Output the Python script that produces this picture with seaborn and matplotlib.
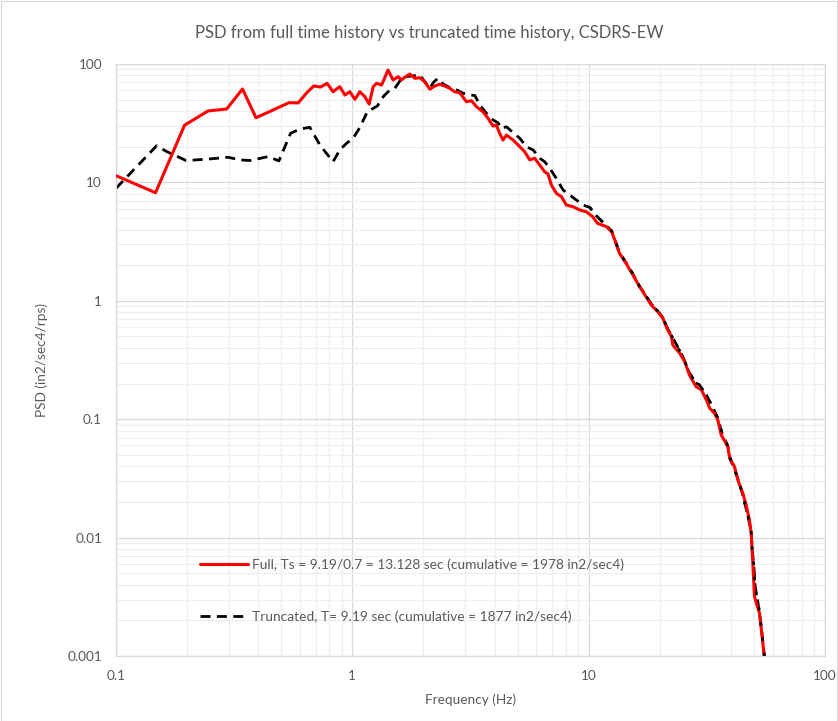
import matplotlib
matplotlib.use("Agg")
import matplotlib.pyplot as plt
import matplotlib.ticker as mticker
from matplotlib.patches import Rectangle
import seaborn as sns
import pandas as pd

# ---------------- data ----------------
f_full = [0.100, 0.147, 0.195, 0.245, 0.294, 0.343, 0.391, 0.440, 0.539, 0.590,
          0.644, 0.687, 0.734, 0.782, 0.829, 0.885, 0.930, 0.976, 1.025, 1.076,
          1.129, 1.178, 1.225, 1.266, 1.33, 1.416, 1.488, 1.563, 1.614, 1.667,
          1.75, 1.837, 1.93, 2.026, 2.128, 2.233, 2.344, 2.46, 2.583, 2.71,
          2.848, 3.04, 3.19, 3.35, 3.57, 3.75, 3.94, 4.07, 4.2, 4.34,
          4.49, 4.79, 5.11, 5.36, 5.63, 5.91, 6.21, 6.51, 6.73, 6.95,
          7.30, 7.67, 8.05, 8.59, 9.16, 9.78, 10.4, 10.9, 11.9, 12.5,
          12.9, 13.5, 14.4, 15.4, 16.4, 17.5, 18.4, 19.6, 20.6, 21.6,
          22.4, 22.7, 24.3, 25.5, 26.7, 28.5, 30.0, 31.5, 32.5, 34.1,
          35.2, 36.4, 38.8, 39.5, 41.4, 42.8, 44.9, 46.4, 47.9, 48.7,
          49.5, 50.3, 52.8, 54.6, 56.0]
psd_full = [11.4, 8.18, 30.4, 40.1, 41.7, 61.5, 35.2, 39.1, 47.1, 46.9,
            57.7, 65.2, 63.9, 68.7, 58.3, 64.3, 54.7, 58.3, 50.3, 58.3,
            53.0, 45.9, 64.3, 68.7, 66.5, 88.9, 73.3, 78.1, 73.3, 77.2,
            82.3, 75.7, 76.6, 70.8, 61.2, 65.2, 67.4, 65.2, 62.3, 58.3,
            57.2, 48.0, 49.0, 43.6, 39.5, 34.8, 29.9, 30.5, 26.0, 22.8,
            25.1, 22.8, 20.0, 18.2, 15.5, 16.0, 14.0, 12.3, 11.8, 9.51,
            8.09, 7.57, 6.44, 6.23, 5.85, 5.65, 5.13, 4.51, 4.23, 3.84,
            3.26, 2.52, 2.07, 1.65, 1.32, 1.08, 0.922, 0.809, 0.711, 0.567,
            0.498, 0.423, 0.360, 0.306, 0.236, 0.188, 0.177, 0.145, 0.124, 0.112,
            0.0985, 0.0736, 0.0586, 0.0468, 0.0397, 0.0306, 0.0237, 0.0188, 0.0141, 0.01087,
            0.00607, 0.00317, 0.0023, 0.00128, 0.0008]

f_trunc = [0.100, 0.1486, 0.164, 0.198, 0.242, 0.298, 0.334, 0.369, 0.44, 0.489,
           0.548, 0.600, 0.661, 0.729, 0.829, 0.885, 0.945, 1.008, 1.076, 1.157,
           1.276, 1.359, 1.441, 1.513, 1.588, 1.667, 1.78, 1.93, 2.026, 2.128,
           2.21, 2.305, 2.42, 2.583, 2.765, 2.94, 3.14, 3.30, 3.46, 3.69,
           3.94, 4.14, 4.27, 4.49, 4.79, 5.11, 5.45, 5.82, 6.21, 6.51,
           6.84, 7.30, 7.79, 8.31, 8.87, 9.46, 10.1, 10.8, 11.9, 12.5,
           12.9, 13.5, 14.4, 15.4, 16.4, 17.5, 18.4, 19.6, 20.6, 21.6,
           22.4, 23.8, 25.3, 26.5, 28.5, 29.3, 31.5, 33.3, 35.2, 36.7,
           38.8, 39.7, 42.4, 44.7, 46.7, 48.7, 49.2, 49.9, 50.7, 52.8,
           54.2, 56.0]
psd_trunc = [8.92, 20.4, 18.2, 15.3, 15.7, 16.3, 15.5, 15.3, 16.5, 15.2,
             26.0, 28.2, 29.2, 20.7, 14.96, 18.8, 21.4, 23.6, 29.1, 39.5,
             44.2, 53.7, 60.3, 62.3, 71.8, 78.1, 79.2, 80.7, 70.8, 62.3,
             70.5, 75.7, 67.8, 63.3, 60.3, 56.6, 54.7, 54.2, 45.1, 38.4,
             33.7, 31.8, 28.6, 29.5, 26.3, 23.6, 20.0, 18.8, 16.0, 14.96,
             13.2, 10.8, 8.63, 7.83, 7.10, 6.44, 6.16, 5.2, 4.3, 3.9,
             3.3, 2.55, 2.1, 1.68, 1.33, 1.10, 0.94, 0.82, 0.72, 0.58,
             0.51, 0.409, 0.322, 0.252, 0.201, 0.197, 0.160, 0.129, 0.102, 0.076,
             0.0594, 0.0466, 0.0331, 0.0237, 0.01655, 0.01143, 0.00775, 0.00607, 0.0038, 0.00237,
             0.0015, 0.0008]

label_full = "Full, Ts = 9.19/0.7 = 13.128 sec (cumulative = 1978 in2/sec4)"
label_trunc = "Truncated, T= 9.19 sec (cumulative = 1877 in2/sec4)"
title = "PSD from full time history vs truncated time history, CSDRS-EW"
x_label = "Frequency (Hz)"
y_label = "PSD (in2/sec4/rps)"
x_ticks = [0.1, 1, 10, 100]
x_ticklabels = ["0.1", "1", "10", "100"]
y_ticks = [0.001, 0.01, 0.1, 1, 10, 100]
y_ticklabels = ["0.001", "0.01", "0.1", "1", "10", "100"]

# ---------------- style ----------------
sns.set_style("white")
plt.rcParams['font.family'] = ['Lato', 'DejaVu Sans']
txt = '#595959'

W, H = 838, 721
fig = plt.figure(figsize=(W / 100, H / 100), dpi=100)
L, R, T, B = 116, 825, 64, 656
ax = fig.add_axes([L / W, 1 - B / H, (R - L) / W, (B - T) / H])

df_full = pd.DataFrame({"f": f_full, "psd": psd_full})
df_trunc = pd.DataFrame({"f": f_trunc, "psd": psd_trunc})
df_trunc_hi = df_trunc[df_trunc["f"] >= 10.0]

# truncated (dashed) under the red line, red on top, then fine dash marks on top
sns.lineplot(data=df_trunc, x="f", y="psd", ax=ax, color="#000000", lw=2.0,
             sort=False, estimator=None, label=label_trunc, zorder=2)
sns.lineplot(data=df_full, x="f", y="psd", ax=ax, color="#ff0000", lw=2.2,
             sort=False, estimator=None, label=label_full, zorder=3)
sns.lineplot(data=df_trunc_hi, x="f", y="psd", ax=ax, color="#000000", lw=1.9,
             sort=False, estimator=None, zorder=4, legend=False)
ax.lines[0].set_linestyle((0, (3.6, 2.3)))
ax.lines[2].set_linestyle((0, (1.3, 4.5)))

ax.set_xscale("log")
ax.set_yscale("log")
ax.set_xlim(0.1, 100)
ax.set_ylim(0.001, 100)

ax.set_xticks(x_ticks)
ax.set_xticklabels(x_ticklabels)
ax.set_yticks(y_ticks)
ax.set_yticklabels(y_ticklabels)
ax.xaxis.set_minor_locator(mticker.LogLocator(base=10, subs=range(2, 10), numticks=20))
ax.yaxis.set_minor_locator(mticker.LogLocator(base=10, subs=range(2, 10), numticks=20))
ax.xaxis.set_minor_formatter(mticker.NullFormatter())
ax.yaxis.set_minor_formatter(mticker.NullFormatter())
ax.tick_params(axis='both', which='both', length=0, colors=txt, labelsize=9.8)
ax.tick_params(axis='x', pad=10)
ax.tick_params(axis='y', pad=10)

ax.grid(which='minor', color='#efefef', lw=0.9, zorder=0)
ax.grid(which='major', color='#d9d9d9', lw=0.9, zorder=0)
ax.set_axisbelow(True)
for s in ax.spines.values():
    s.set_color('#d9d9d9')
    s.set_linewidth(0.9)

ax.set_xlabel(x_label, color=txt, fontsize=9.8, labelpad=8)
ax.set_ylabel(y_label, color=txt, fontsize=9.8, labelpad=14)
fig.text(429.5 / W, 1 - 33 / H, title, ha='center', va='center',
         color=txt, fontsize=12)

handles, labels = ax.get_legend_handles_labels()
order = [labels.index(label_full), labels.index(label_trunc)]
leg = ax.legend([handles[i] for i in order], [labels[i] for i in order],
                loc='center left',
                bbox_to_anchor=((200 - L) / (R - L), (B - 590.5) / (B - T)),
                frameon=False, fontsize=9.9, handlelength=3.5, handletextpad=0.25,
                labelspacing=2.9, borderpad=0, borderaxespad=0)
for t in leg.get_texts():
    t.set_color(txt)

fig.patches.append(Rectangle((0.5 / W, 0.5 / H), 1 - 1.5 / W, 1 - 1.5 / H,
                             transform=fig.transFigure, fill=False,
                             edgecolor='#d9d9d9', lw=0.8))

fig.savefig("out.png", dpi=100)
